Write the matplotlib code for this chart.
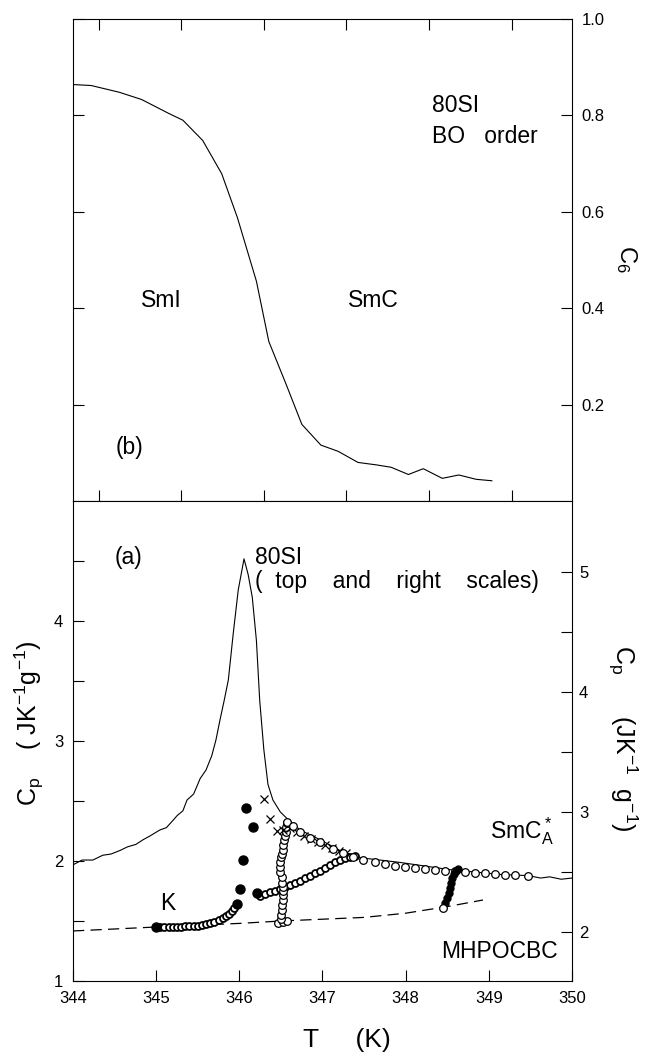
import matplotlib
matplotlib.use('Agg')
import matplotlib.pyplot as plt

plt.rcParams['font.family'] = ['Liberation Sans', 'DejaVu Sans']
plt.rcParams['mathtext.default'] = 'regular'

# ---- panel (b): 80SI bond-orientational order C6 vs T (top scale)
c6_T = [350.69, 350.91, 351.25, 351.52, 351.85, 352.02, 352.26, 352.49, 352.68, 352.91,
        353.06, 353.27, 353.46, 353.69, 353.90, 354.14, 354.36, 354.54, 354.75, 354.93,
        355.16, 355.36, 355.57, 355.76]
c6_val = [0.864, 0.862, 0.848, 0.833, 0.804, 0.790, 0.748, 0.679, 0.588, 0.456,
          0.331, 0.242, 0.159, 0.116, 0.103, 0.080, 0.075, 0.070, 0.055, 0.067,
          0.047, 0.054, 0.045, 0.042]

# ---- panel (a): 80SI heat capacity (top and right scales)
si_T = [350.69, 350.80, 350.93, 351.05, 351.15, 351.26, 351.35, 351.45, 351.54, 351.62,
        351.74, 351.82, 351.90, 351.95, 352.02, 352.07, 352.15, 352.23, 352.30, 352.37,
        352.42, 352.47, 352.52, 352.57, 352.63, 352.69, 352.76, 352.81, 352.86, 352.91,
        352.95, 353.00, 353.05, 353.11, 353.20, 353.32, 353.44, 353.68, 353.92, 354.16,
        354.65, 355.25, 355.86, 356.20, 356.35, 356.46, 356.60, 356.73]
si_cp = [2.56, 2.60, 2.60, 2.64, 2.65, 2.68, 2.71, 2.73, 2.77, 2.80,
         2.85, 2.87, 2.93, 2.97, 3.01, 3.10, 3.15, 3.28, 3.35, 3.47,
         3.60, 3.77, 3.93, 4.10, 4.49, 4.85, 5.11, 4.98, 4.79, 4.43,
         3.93, 3.52, 3.23, 3.10, 3.00, 2.92, 2.85, 2.77, 2.68, 2.62,
         2.58, 2.52, 2.48, 2.47, 2.45, 2.46, 2.44, 2.45]

# ---- panel (a): MHPOCBC (bottom and left scales)
base_T = [344.0, 345.0, 346.0, 346.5, 347.0, 347.5, 348.0, 348.5, 348.93]
base_cp = [1.417, 1.45, 1.48, 1.50, 1.515, 1.53, 1.565, 1.62, 1.675]

k_T = [345.05, 345.10, 345.15, 345.20, 345.25, 345.30, 345.35, 345.40, 345.45, 345.50,
       345.55, 345.60, 345.65, 345.70, 345.75, 345.80, 345.84, 345.88, 345.91, 345.94]
k_cp = [1.450, 1.451, 1.451, 1.452, 1.452, 1.453, 1.455, 1.457, 1.459, 1.462,
        1.467, 1.473, 1.480, 1.492, 1.505, 1.522, 1.540, 1.560, 1.580, 1.610]

filled_T = [345.00, 345.97, 346.01, 346.04, 346.16, 346.08, 346.21]
filled_cp = [1.450, 1.640, 1.770, 2.010, 2.280, 2.440, 1.730]

col_T = [346.47, 346.52, 346.57, 346.50, 346.50, 346.51, 346.51, 346.52, 346.52, 346.52,
         346.52, 346.51, 346.51, 346.49, 346.49, 346.49, 346.50, 346.51, 346.52, 346.53,
         346.54, 346.55, 346.56, 346.56, 346.57]
col_cp = [1.483, 1.490, 1.500, 1.520, 1.550, 1.590, 1.630, 1.675, 1.720, 1.750,
          1.783, 1.820, 1.867, 1.910, 1.950, 1.990, 2.030, 2.060, 2.090, 2.130,
          2.175, 2.210, 2.240, 2.280, 2.317]

rise_T = [346.25, 346.31, 346.37, 346.43, 346.49, 346.55, 346.61, 346.67, 346.73, 346.79,
          346.85, 346.91, 346.97, 347.03, 347.09, 347.15, 347.21, 347.27, 347.33, 347.39]
rise_cp = [1.708, 1.725, 1.742, 1.750, 1.767, 1.783, 1.800, 1.817, 1.833, 1.858,
           1.875, 1.900, 1.917, 1.942, 1.967, 1.992, 2.008, 2.025, 2.033, 2.042]

smca_T = [346.57, 346.64, 346.73, 346.85, 346.97, 347.13, 347.25, 347.37, 347.49, 347.63,
          347.75, 347.87, 347.99, 348.11, 348.23, 348.35, 348.47, 348.59, 348.71, 348.83,
          348.95, 349.07, 349.19, 349.31, 349.47]
smca_cp = [2.325, 2.292, 2.242, 2.192, 2.158, 2.100, 2.067, 2.033, 2.008, 1.992,
           1.975, 1.958, 1.950, 1.942, 1.933, 1.925, 1.917, 1.917, 1.908, 1.900,
           1.900, 1.892, 1.883, 1.883, 1.875]

cross_T = [346.30, 346.37, 346.45, 346.52, 346.61, 346.69, 346.78, 346.86, 346.94, 347.03,
           347.11, 347.20, 347.28]
cross_cp = [2.520, 2.350, 2.250, 2.258, 2.275, 2.242, 2.208, 2.183, 2.158, 2.133,
            2.108, 2.083, 2.067]

jump_T = [348.47, 348.50, 348.52, 348.53, 348.54, 348.56, 348.58, 348.60, 348.63]
jump_cp = [1.650, 1.692, 1.733, 1.775, 1.817, 1.858, 1.892, 1.917, 1.933]
jump_open_T = [348.45]
jump_open_cp = [1.608]

top_ticks = [351, 352, 353, 354, 355, 356]
bottom_ticks = [344, 345, 346, 347, 348, 349, 350]

fig = plt.figure(figsize=(6.5, 10.61), dpi=100)
left, width = 0.1123, 0.7677
tick_kw = dict(direction='in', length=8, width=0.8, labelsize=12, pad=7)
fs = 16.5

# ---------------- top panel (b)
axb = fig.add_axes([left, 0.5278, width, 0.4543])
axb.plot(c6_T, c6_val, color='black', lw=0.8)
axb.set_xlim(350.69, 356.73)
axb.set_ylim(0, 1.0)
axb.set_xticks(top_ticks)
axb.set_yticks([0.2, 0.4, 0.6, 0.8, 1.0])
axb.set_yticklabels(['0.2', '0.4', '0.6', '0.8', '1.0'])
axb.tick_params(axis='both', top=True, right=True, left=True, bottom=True,
                labelleft=False, labelright=True, **tick_kw)
axb.yaxis.set_label_position('right')
axb.set_ylabel('C$_6$', rotation=270, fontsize=17)
axb.yaxis.set_label_coords(1.135, 0.502)
for s in axb.spines.values():
    s.set_linewidth(0.8)

axb.text(0.719, 0.807, '80SI', transform=axb.transAxes, fontsize=fs)
axb.text(0.719, 0.743, 'BO   order', transform=axb.transAxes, fontsize=fs)
axb.text(0.136, 0.402, 'SmI', transform=axb.transAxes, fontsize=fs)
axb.text(0.551, 0.402, 'SmC', transform=axb.transAxes, fontsize=fs)
axb.text(0.086, 0.112, '(b)', transform=axb.transAxes, fontsize=fs, va='center')

# ---------------- bottom panel (a): 80SI on top/right scales
ax_si = fig.add_axes([left, 0.0754, width, 0.4524])
ax_si.plot(si_T, si_cp, color='black', lw=0.8)
ax_si.set_xlim(350.69, 356.73)
ax_si.set_ylim(1.592, 5.592)
ax_si.set_xticks([])
ax_si.yaxis.tick_right()
ax_si.set_yticks([2, 3, 4, 5])
ax_si.set_yticks([2.5, 3.5, 4.5], minor=True)
ax_si.tick_params(axis='y', which='both', direction='in', length=8, width=0.8,
                  labelsize=12, pad=5)
ax_si.yaxis.set_label_position('right')
ax_si.set_ylabel('C$_p$      (JK$^{-1}$  g$^{-1}$)', rotation=270, fontsize=18)
ax_si.yaxis.set_label_coords(1.135, 0.506)
for s in ax_si.spines.values():
    s.set_linewidth(0.8)

# MHPOCBC on bottom/left scales, drawn above the 80SI curve
ax = fig.add_axes([left, 0.0754, width, 0.4524], frameon=False)
ax.patch.set_visible(False)
ax.plot(base_T, base_cp, color='black', lw=0.9, dashes=(9, 5))
ax.plot(k_T, k_cp, 'o', ms=5, mfc='white', mec='black', mew=1.3)
ax.plot(rise_T, rise_cp, 'o', ms=5, mfc='white', mec='black', mew=1.3)
ax.plot(col_T, col_cp, 'o', ms=5.5, mfc='white', mec='black', mew=0.9)
ax.plot(cross_T, cross_cp, 'x', ms=6, color='black', mew=0.9)
ax.plot(smca_T, smca_cp, 'o', ms=5.5, mfc='white', mec='black', mew=0.9)
ax.plot(jump_T, jump_cp, 'o', ms=5, mfc='black', mec='black')
ax.plot(jump_open_T, jump_open_cp, 'o', ms=5.5, mfc='white', mec='black', mew=0.9)
ax.plot(filled_T, filled_cp, 'o', ms=6.5, color='black')
ax.set_xlim(344, 350)
ax.set_ylim(1, 5)
ax.set_xticks(bottom_ticks)
ax.set_yticks([1, 2, 3, 4])
ax.set_yticks([1.5, 2.5, 3.5, 4.5], minor=True)
ax.tick_params(axis='both', which='both', top=False, right=False, **tick_kw)
ax.set_xlabel('T     (K)', fontsize=19)
ax.xaxis.set_label_coords(0.549, -0.098)
ax.set_ylabel('C$_p$    ( JK$^{-1}$g$^{-1}$)', fontsize=18)
ax.yaxis.set_label_coords(-0.054, 0.5375)

ax.text(0.084, 0.883, '(a)', transform=ax.transAxes, fontsize=fs, va='center')
ax.text(0.365, 0.869, '80SI', transform=ax.transAxes, fontsize=fs)
ax.text(0.365, 0.819, '(  top    and    right    scales)', transform=ax.transAxes, fontsize=fs)
ax.text(0.174, 0.148, 'K', transform=ax.transAxes, fontsize=fs)
ax.text(0.836, 0.298, 'SmC$_A^*$', transform=ax.transAxes, fontsize=fs)
ax.text(0.972, 0.048, 'MHPOCBC', transform=ax.transAxes, fontsize=fs, ha='right')

plt.savefig('out.png', dpi=100)
